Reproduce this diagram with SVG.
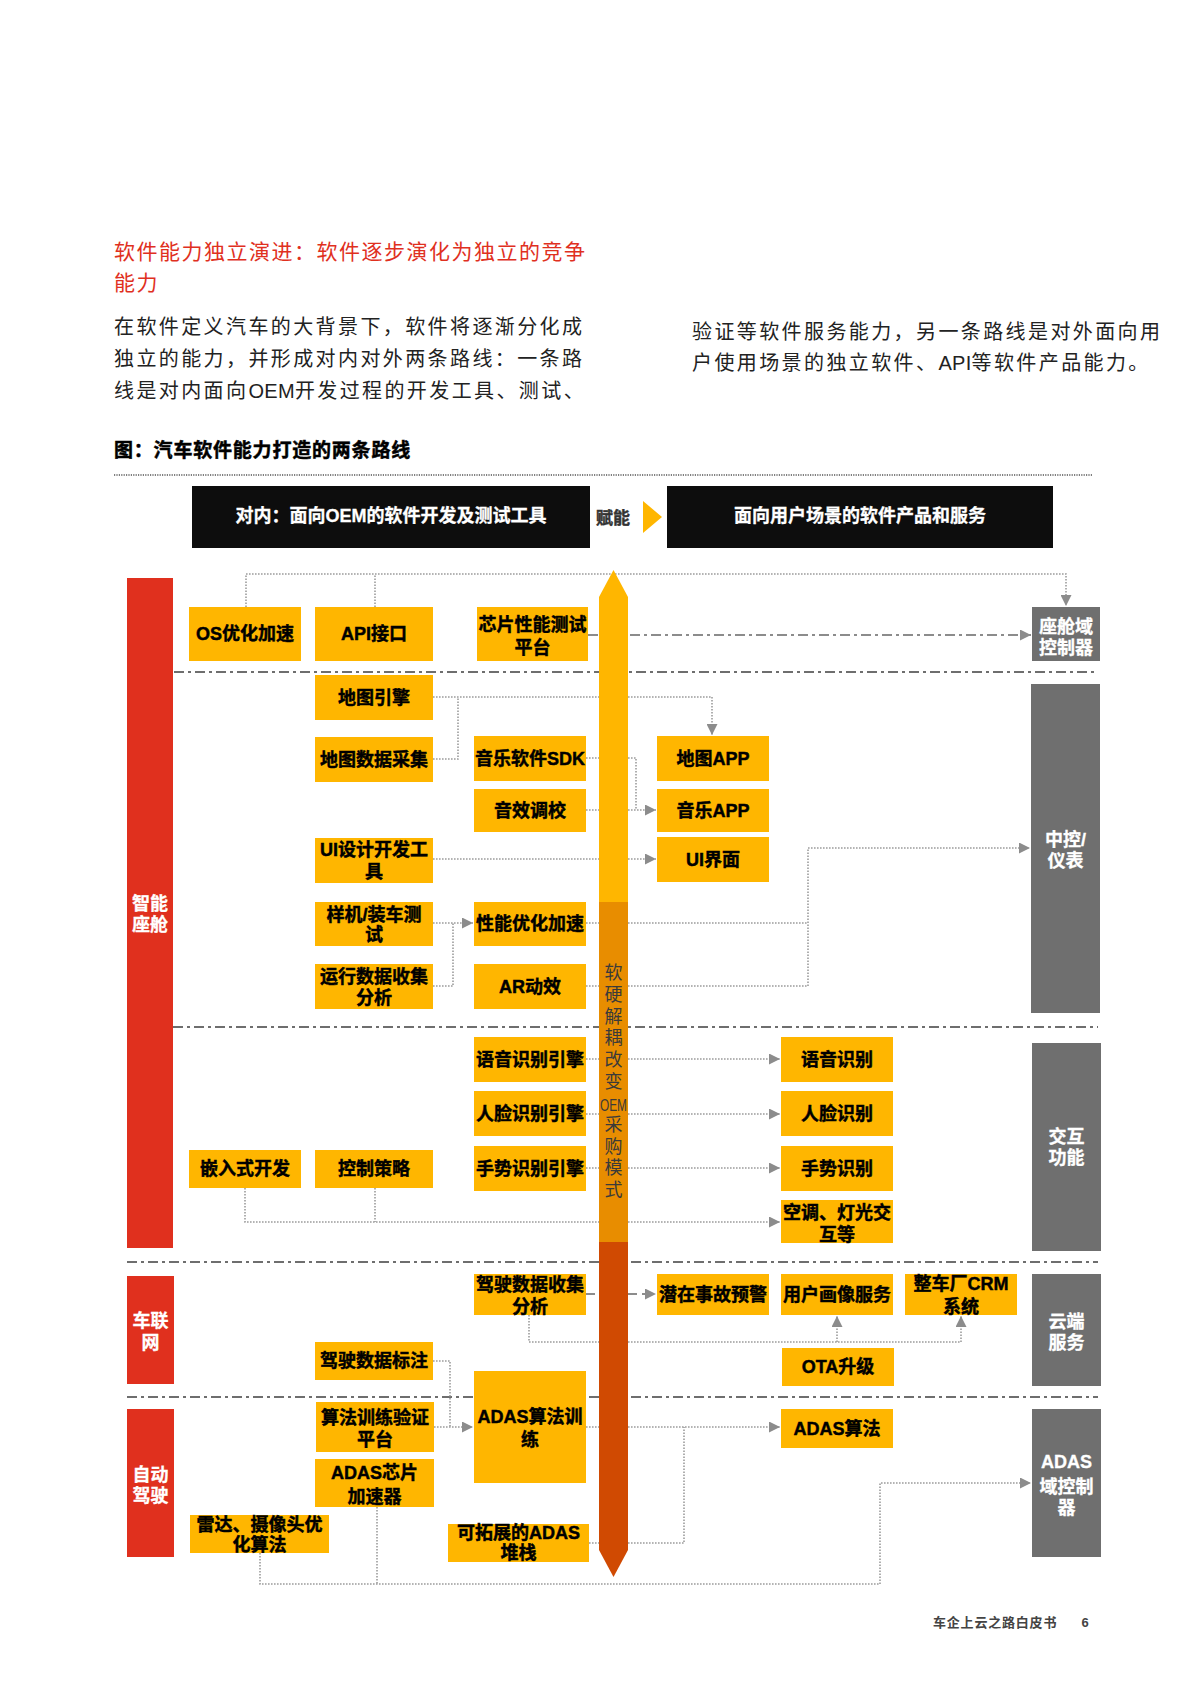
<svg xmlns="http://www.w3.org/2000/svg" width="1200" height="1698" viewBox="0 0 1200 1698">
<defs>
<style>
.y{fill:#FFB600}
.g{fill:#6F6F6F}
.r{fill:#E0301E}
.t{font-family:"Liberation Sans","Noto Sans CJK SC",sans-serif;font-weight:bold;font-size:18px;text-anchor:middle;fill:#000;stroke:#000;stroke-width:0.45px}
.w{font-family:"Liberation Sans","Noto Sans CJK SC",sans-serif;font-weight:bold;font-size:18px;text-anchor:middle;fill:#fff;stroke:#fff;stroke-width:0.3px}
.body{font-family:"Liberation Sans","Noto Sans CJK SC",sans-serif;font-size:20px;fill:#222;letter-spacing:2.4px}
.lat{letter-spacing:0.3px}
.title{font-family:"Liberation Sans","Noto Sans CJK SC",sans-serif;font-size:21px;fill:#E0301E;letter-spacing:1.5px}
.sep{stroke:#6E6E6E;stroke-width:2.2;stroke-dasharray:10 4 3 4;fill:none}
.dot{stroke:#9C9C9C;stroke-width:1.6;stroke-dasharray:1.6 1.4;fill:none}
.dd{stroke:#8C8C8C;stroke-width:1.8;stroke-dasharray:10 4 3 4;fill:none}
.vt{font-family:"Liberation Sans","Noto Sans CJK SC",sans-serif;font-size:18px;text-anchor:middle;fill:#3A3A3A}
</style>
<marker id="ah" viewBox="0 0 10 10" refX="10" refY="5" markerWidth="11" markerHeight="11" markerUnits="userSpaceOnUse" orient="auto"><path d="M0,0 L10,5 L0,10 Z" fill="#8C8C8C"/></marker>
</defs>
<rect width="1200" height="1698" fill="#fff"/>

<g id="header">
<text class="title" x="114" y="259">软件能力独立演进：软件逐步演化为独立的竞争</text>
<text class="title" x="114" y="290">能力</text>
<text class="body" x="114" y="334">在软件定义汽车的大背景下，软件将逐渐分化成</text>
<text class="body" x="114" y="366">独立的能力，并形成对内对外两条路线：一条路</text>
<text class="body" x="114" y="398">线是对内面向<tspan class="lat">OEM</tspan>开发过程的开发工具、测试、</text>
<text class="body" x="692" y="339">验证等软件服务能力，另一条路线是对外面向用</text>
<text class="body" x="692" y="370">户使用场景的独立软件、<tspan class="lat">API</tspan>等软件产品能力。</text>
<text x="114" y="457" style="font-family:'Liberation Sans','Noto Sans CJK SC',sans-serif;font-size:19px;font-weight:bold;fill:#000;stroke:#000;stroke-width:0.5px;letter-spacing:0.8px">图：汽车软件能力打造的两条路线</text>
<line x1="114" y1="475" x2="1092" y2="475" stroke="#555" stroke-width="1.3" stroke-dasharray="1.2 1.2"/>
</g>

<g id="banner-left">
<rect x="192" y="486" width="398" height="62" fill="#0D0D0D"/>
<text class="w" x="391" y="522">对内：面向OEM的软件开发及测试工具</text>
</g>
<g id="banner-arrow">
<text x="613" y="524" style="font-family:'Liberation Sans','Noto Sans CJK SC',sans-serif;font-size:17px;font-weight:bold;fill:#333;stroke:#333;stroke-width:0.4px;text-anchor:middle">赋能</text>
<polygon points="643,501 662,517 643,533" fill="#FFB600"/>
</g>
<g id="banner-right">
<rect x="667" y="486" width="386" height="62" fill="#0D0D0D"/>
<text class="w" x="860" y="522">面向用户场景的软件产品和服务</text>
</g>

<g id="separators">
<line class="sep" x1="174" y1="672" x2="1094" y2="672"/>
<line class="sep" x1="173" y1="1027" x2="1098" y2="1027"/>
<line class="sep" x1="127" y1="1262" x2="1098" y2="1262"/>
<line class="sep" x1="127" y1="1397" x2="1098" y2="1397"/>
</g>

<g id="connectors">
<path class="dot" d="M246,607 V574 H1066 V606" marker-end="url(#ah)"/>
<path class="dot" d="M375,607 V574"/>
<path class="dd" d="M588,635 H1031" marker-end="url(#ah)"/>
<path class="dot" d="M433,697 H712 V735" marker-end="url(#ah)"/>
<path class="dot" d="M433,759 H458 V697"/>
<path class="dot" d="M586,758 H636 V810"/>
<path class="dot" d="M586,810 H656" marker-end="url(#ah)"/>
<path class="dot" d="M433,859 H656" marker-end="url(#ah)"/>
<path class="dot" d="M433,923 H473" marker-end="url(#ah)"/>
<path class="dot" d="M433,986 H453 V923"/>
<path class="dot" d="M586,923 H808"/>
<path class="dot" d="M586,986 H808 V848 H1030" marker-end="url(#ah)"/>
<path class="dot" d="M586,1059 H780" marker-end="url(#ah)"/>
<path class="dot" d="M586,1114 H780" marker-end="url(#ah)"/>
<path class="dot" d="M586,1168 H780" marker-end="url(#ah)"/>
<path class="dot" d="M245,1188 V1222 H780" marker-end="url(#ah)"/>
<path class="dot" d="M375,1188 V1222"/>
<path d="M586,1294 H656" stroke="#8C8C8C" stroke-width="1.8" stroke-dasharray="9 5" fill="none" marker-end="url(#ah)"/>
<path class="dot" d="M529,1315 V1342 H961 V1316" marker-end="url(#ah)"/>
<path class="dot" d="M837,1342 V1316" marker-end="url(#ah)"/>
<path class="dot" d="M433,1361 H450 V1427"/>
<path class="dot" d="M434,1427 H473" marker-end="url(#ah)"/>
<path class="dot" d="M586,1427 H780" marker-end="url(#ah)"/>
<path class="dot" d="M589,1543 H684 V1427"/>
<path class="dot" d="M260,1553 V1584 H880 V1483 H1031" marker-end="url(#ah)"/>
<path class="dot" d="M377,1507 V1584"/>
</g>

<g id="main-arrow">
<polygon points="599,597 613.5,570 628,597 628,902 599,902" fill="#FFB600"/>
<rect x="599" y="902" width="29" height="340" fill="#E88D00"/>
<polygon points="599,1242 628,1242 628,1550 613.5,1577 599,1550" fill="#D04A02"/>
<text class="vt" x="613.5" y="979">软</text>
<text class="vt" x="613.5" y="1001">硬</text>
<text class="vt" x="613.5" y="1023">解</text>
<text class="vt" x="613.5" y="1044">耦</text>
<text class="vt" x="613.5" y="1066">改</text>
<text class="vt" x="613.5" y="1088">变</text>
<text class="vt" x="613.5" y="1111" textLength="27" lengthAdjust="spacingAndGlyphs" style="font-size:17px">OEM</text>
<text class="vt" x="613.5" y="1131">采</text>
<text class="vt" x="613.5" y="1153">购</text>
<text class="vt" x="613.5" y="1174">模</text>
<text class="vt" x="613.5" y="1196">式</text>
</g>

<g id="cat-cockpit"><rect class="r" x="127" y="578" width="46" height="670"/><text class="w" x="150" y="910">智能</text><text class="w" x="150" y="931">座舱</text></g>
<g id="cat-iov"><rect class="r" x="127" y="1276" width="47" height="108"/><text class="w" x="150.5" y="1327">车联</text><text class="w" x="150.5" y="1349">网</text></g>
<g id="cat-ad"><rect class="r" x="127" y="1409" width="47" height="148"/><text class="w" x="150.5" y="1481">自动</text><text class="w" x="150.5" y="1502">驾驶</text></g>

<g id="dom-cockpit"><rect class="g" x="1032" y="607" width="68" height="54"/><text class="w" x="1066" y="633">座舱域</text><text class="w" x="1066" y="654">控制器</text></g>
<g id="dom-hmi"><rect class="g" x="1031" y="684" width="69" height="329"/><text class="w" x="1065.5" y="846">中控/</text><text class="w" x="1065.5" y="867">仪表</text></g>
<g id="dom-interact"><rect class="g" x="1032" y="1043" width="69" height="208"/><text class="w" x="1066.5" y="1143">交互</text><text class="w" x="1066.5" y="1164">功能</text></g>
<g id="dom-cloud"><rect class="g" x="1032" y="1274" width="69" height="112"/><text class="w" x="1066.5" y="1328">云端</text><text class="w" x="1066.5" y="1349">服务</text></g>
<g id="dom-adas"><rect class="g" x="1032" y="1409" width="69" height="148"/><text class="w" x="1066.5" y="1468">ADAS</text><text class="w" x="1066.5" y="1493">域控制</text><text class="w" x="1066.5" y="1514">器</text></g>

<g id="n-os"><rect class="y" x="189" y="607" width="112" height="54"/><text class="t" x="245" y="640">OS优化加速</text></g>
<g id="n-api"><rect class="y" x="315" y="607" width="118" height="54"/><text class="t" x="374" y="640">API接口</text></g>
<g id="n-chip"><rect class="y" x="477" y="607" width="111" height="54"/><text class="t" x="532.5" y="631">芯片性能测试</text><text class="t" x="532.5" y="654">平台</text></g>
<g id="n-mapengine"><rect class="y" x="315" y="675" width="118" height="45"/><text class="t" x="374" y="704">地图引擎</text></g>
<g id="n-mapdata"><rect class="y" x="315" y="737" width="118" height="45"/><text class="t" x="374" y="766">地图数据采集</text></g>
<g id="n-musicsdk"><rect class="y" x="474" y="736" width="112" height="45"/><text class="t" x="530" y="765">音乐软件SDK</text></g>
<g id="n-sound"><rect class="y" x="474" y="789" width="112" height="43"/><text class="t" x="530" y="817">音效调校</text></g>
<g id="n-uitool"><rect class="y" x="315" y="838" width="118" height="45"/><text class="t" x="374" y="856">UI设计开发工</text><text class="t" x="374" y="878">具</text></g>
<g id="n-prototype"><rect class="y" x="315" y="902" width="118" height="44"/><text class="t" x="374" y="921">样机/装车测</text><text class="t" x="374" y="941">试</text></g>
<g id="n-perf"><rect class="y" x="474" y="902" width="112" height="44"/><text class="t" x="530" y="930">性能优化加速</text></g>
<g id="n-rundata"><rect class="y" x="315" y="964" width="118" height="45"/><text class="t" x="374" y="983">运行数据收集</text><text class="t" x="374" y="1004">分析</text></g>
<g id="n-ar"><rect class="y" x="474" y="964" width="112" height="45"/><text class="t" x="530" y="993">AR动效</text></g>
<g id="n-mapapp"><rect class="y" x="657" y="736" width="112" height="45"/><text class="t" x="713" y="765">地图APP</text></g>
<g id="n-musicapp"><rect class="y" x="657" y="789" width="112" height="43"/><text class="t" x="713" y="817">音乐APP</text></g>
<g id="n-ui"><rect class="y" x="657" y="837" width="112" height="45"/><text class="t" x="713" y="866">UI界面</text></g>
<g id="n-voiceengine"><rect class="y" x="474" y="1037" width="112" height="45"/><text class="t" x="530" y="1066">语音识别引擎</text></g>
<g id="n-faceengine"><rect class="y" x="474" y="1091" width="112" height="45"/><text class="t" x="530" y="1120">人脸识别引擎</text></g>
<g id="n-gestureengine"><rect class="y" x="474" y="1146" width="112" height="45"/><text class="t" x="530" y="1175">手势识别引擎</text></g>
<g id="n-embedded"><rect class="y" x="189" y="1150" width="112" height="38"/><text class="t" x="245" y="1175">嵌入式开发</text></g>
<g id="n-control"><rect class="y" x="315" y="1150" width="118" height="38"/><text class="t" x="374" y="1175">控制策略</text></g>
<g id="n-voice"><rect class="y" x="781" y="1037" width="112" height="45"/><text class="t" x="837" y="1066">语音识别</text></g>
<g id="n-face"><rect class="y" x="781" y="1091" width="112" height="45"/><text class="t" x="837" y="1120">人脸识别</text></g>
<g id="n-gesture"><rect class="y" x="781" y="1146" width="112" height="45"/><text class="t" x="837" y="1175">手势识别</text></g>
<g id="n-ac"><rect class="y" x="781" y="1200" width="112" height="43"/><text class="t" x="837" y="1219">空调、灯光交</text><text class="t" x="837" y="1241">互等</text></g>
<g id="n-drivedata"><rect class="y" x="474" y="1274" width="112" height="41"/><text class="t" x="530" y="1291">驾驶数据收集</text><text class="t" x="530" y="1313">分析</text></g>
<g id="n-warning"><rect class="y" x="657" y="1274" width="112" height="41"/><text class="t" x="713" y="1301">潜在事故预警</text></g>
<g id="n-profile"><rect class="y" x="781" y="1274" width="112" height="41"/><text class="t" x="837" y="1301">用户画像服务</text></g>
<g id="n-crm"><rect class="y" x="905" y="1274" width="112" height="41"/><text class="t" x="961" y="1290">整车厂CRM</text><text class="t" x="961" y="1313">系统</text></g>
<g id="n-ota"><rect class="y" x="782" y="1348" width="112" height="38"/><text class="t" x="838" y="1373">OTA升级</text></g>
<g id="n-label"><rect class="y" x="315" y="1342" width="118" height="38"/><text class="t" x="374" y="1367">驾驶数据标注</text></g>
<g id="n-trainplat"><rect class="y" x="316" y="1402" width="118" height="50"/><text class="t" x="375" y="1424">算法训练验证</text><text class="t" x="375" y="1446">平台</text></g>
<g id="n-adaschip"><rect class="y" x="315" y="1459" width="119" height="48"/><text class="t" x="374.5" y="1479">ADAS芯片</text><text class="t" x="374.5" y="1503">加速器</text></g>
<g id="n-adastrain"><rect class="y" x="474" y="1371" width="112" height="112"/><text class="t" x="530" y="1423">ADAS算法训</text><text class="t" x="530" y="1446">练</text></g>
<g id="n-adasalgo"><rect class="y" x="781" y="1409" width="112" height="39"/><text class="t" x="837" y="1435">ADAS算法</text></g>
<g id="n-radar"><rect class="y" x="190" y="1515" width="139" height="38"/><text class="t" x="259.5" y="1531">雷达、摄像头优</text><text class="t" x="259.5" y="1551">化算法</text></g>
<g id="n-stack"><rect class="y" x="448" y="1524" width="141" height="38"/><text class="t" x="518.5" y="1539">可拓展的ADAS</text><text class="t" x="518.5" y="1559">堆栈</text></g>

<g id="footer">
<text x="933" y="1627" style="font-family:'Liberation Sans','Noto Sans CJK SC',sans-serif;font-size:13px;font-weight:bold;fill:#444;letter-spacing:0.8px">车企上云之路白皮书</text>
<text x="1085" y="1627" style="font-family:'Liberation Sans','Noto Sans CJK SC',sans-serif;font-size:13px;font-weight:bold;fill:#444;text-anchor:middle">6</text>
</g>
</svg>
